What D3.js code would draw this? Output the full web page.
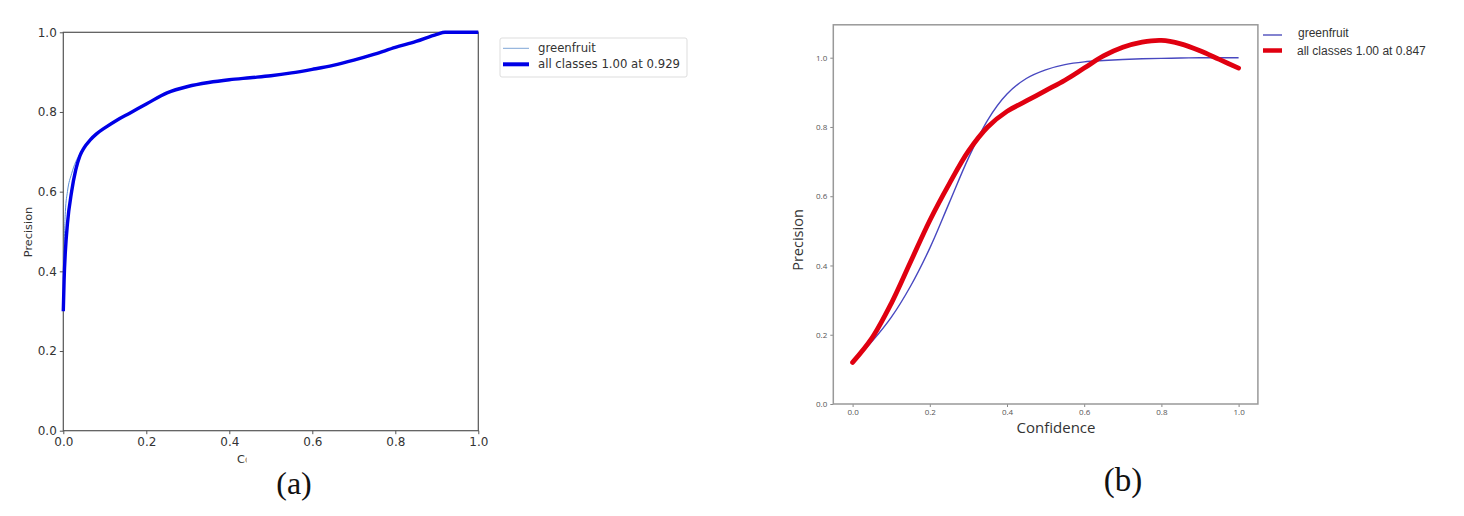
<!DOCTYPE html>
<html><head><meta charset="utf-8">
<script src="https://cdn.jsdelivr.net/npm/d3@7"></script>
<style>html,body{margin:0;padding:0;background:#fff;}svg{display:block;}</style>
</head><body>
<svg id="chart" width="1464" height="516"></svg>
<script>
// ---------- Data: panel (a) ----------
const aConfidence = [0, 0.002, 0.005, 0.01, 0.02, 0.03, 0.04, 0.05, 0.065, 0.08, 0.1, 0.13, 0.16, 0.2, 0.25, 0.3, 0.35, 0.4, 0.45, 0.5, 0.55, 0.6, 0.65, 0.7, 0.75, 0.8, 0.85, 0.9, 0.92, 0.95, 1.0];
const aAllClasses = [0.30, 0.38, 0.45, 0.52, 0.60, 0.655, 0.69, 0.71, 0.73, 0.745, 0.76, 0.78, 0.797, 0.82, 0.848, 0.864, 0.874, 0.881, 0.886, 0.891, 0.898, 0.907, 0.917, 0.93, 0.945, 0.962, 0.977, 0.995, 1.0, 1.0, 1.0];
const aGreenfruit = [0.30, 0.45, 0.55, 0.60, 0.645, 0.675, 0.695, 0.712, 0.73, 0.745, 0.76, 0.78, 0.797, 0.82, 0.848, 0.864, 0.874, 0.881, 0.886, 0.891, 0.898, 0.907, 0.917, 0.93, 0.945, 0.962, 0.977, 0.995, 1.0, 1.0, 1.0];
const aLegend = ["greenfruit", "all classes 1.00 at 0.929"];

// ---------- Data: panel (b) ----------
const bConfidence = [0, 0.05, 0.1, 0.15, 0.2, 0.25, 0.3, 0.35, 0.4, 0.45, 0.5, 0.55, 0.6, 0.65, 0.7, 0.75, 0.8, 0.85, 0.9, 0.95, 1.0];
const bAllClasses = [0.12, 0.19, 0.29, 0.41, 0.53, 0.635, 0.73, 0.80, 0.845, 0.875, 0.905, 0.935, 0.97, 1.005, 1.03, 1.045, 1.05, 1.04, 1.02, 0.995, 0.97];
const bGreenfruit = [0.12, 0.18, 0.25, 0.34, 0.45, 0.58, 0.71, 0.82, 0.895, 0.94, 0.965, 0.98, 0.988, 0.992, 0.995, 0.997, 0.998, 0.999, 1.0, 1.0, 1.0];
const bLegend = ["greenfruit", "all classes 1.00 at 0.847"];

const ticks = [0, 0.2, 0.4, 0.6, 0.8, 1.0];
const captions = ["(a)", "(b)"];

const svg = d3.select("#chart");

// ================= Panel (a) =================
(function(){
  const x = d3.scaleLinear().domain([0, 1]).range([63.3, 478.3]);
  const y = d3.scaleLinear().domain([0, 1]).range([430.7, 32.3]);
  const g = svg.append("g");
  const font = "DejaVu Sans";
  const col = "#555";

  const xa = g.append("g").attr("transform", `translate(0,${y(0)})`)
    .call(d3.axisBottom(x).tickValues(ticks).tickFormat(d3.format(".1f")).tickSizeOuter(0).tickSize(3.5).tickPadding(3));
  const ya = g.append("g").attr("transform", `translate(${x(0)},0)`)
    .call(d3.axisLeft(y).tickValues(ticks).tickFormat(d3.format(".1f")).tickSizeOuter(0).tickSize(3.5).tickPadding(3));
  [xa, ya].forEach(a => {
    a.select(".domain").remove();
    a.selectAll("line").attr("stroke", col);
    a.selectAll("text").attr("font-family", font).attr("font-size", 12).attr("fill", "#333");
  });
  g.append("rect").attr("x", x(0)).attr("y", y(1)).attr("width", x(1) - x(0)).attr("height", y(0) - y(1))
    .attr("fill", "none").attr("stroke", col).attr("stroke-width", 1.2);

  const line = d3.line().x(d => x(d[0])).y(d => y(d[1])).curve(d3.curveMonotoneX);
  g.append("path").datum(aConfidence.map((c, i) => [c, aGreenfruit[i]]))
    .attr("d", line).attr("fill", "none").attr("stroke", "#5b8fd6").attr("stroke-width", 1);
  g.append("path").datum(aConfidence.map((c, i) => [c, aAllClasses[i]]))
    .attr("d", line).attr("fill", "none").attr("stroke", "#0000e6").attr("stroke-width", 3.4)
    .attr("stroke-linejoin", "round");

  g.append("text").attr("transform", `translate(32,232) rotate(-90)`)
    .attr("text-anchor", "middle").attr("font-family", font).attr("font-size", 11.3).attr("fill", "#333")
    .text("Precision");
  // x label, mostly hidden behind the caption area
  const clip = svg.append("defs").append("clipPath").attr("id", "clipA");
  clip.append("rect").attr("x", 200).attr("y", 445).attr("width", 46.5).attr("height", 25);
  g.append("text").attr("x", 237).attr("y", 463)
    .attr("text-anchor", "start").attr("font-family", font).attr("font-size", 11.3).attr("fill", "#333")
    .attr("clip-path", "url(#clipA)").text("Confidence");

  const lg = g.append("g");
  lg.append("rect").attr("x", 500).attr("y", 38).attr("width", 187).attr("height", 39).attr("rx", 2)
    .attr("fill", "#fff").attr("stroke", "#ddd").attr("stroke-width", 1);
  const items = [{c: "#7fa6d6", w: 1, yy: 48.3}, {c: "#0000e6", w: 4, yy: 64.3}];
  items.forEach((it, i) => {
    lg.append("line").attr("x1", 503).attr("x2", 529).attr("y1", it.yy).attr("y2", it.yy)
      .attr("stroke", it.c).attr("stroke-width", it.w);
    lg.append("text").attr("x", 538).attr("y", it.yy).attr("dy", "0.35em")
      .attr("font-family", font).attr("font-size", 11.7).attr("fill", "#333").text(aLegend[i]);
  });
  svg.append("text").attr("x", 294).attr("y", 494).attr("text-anchor", "middle")
    .attr("font-family", "Liberation Serif").attr("font-size", 32).attr("fill", "#111").text(captions[0]);
})();

// ================= Panel (b) =================
(function(){
  const x = d3.scaleLinear().domain([-0.05, 1.05]).range([833.3, 1257.9]);
  const y = d3.scaleLinear().domain([0, 1.095]).range([404, 24.8]);
  const g = svg.append("g");
  const font = "Open Sans";
  const col = "#999";

  const xa = g.append("g").attr("transform", `translate(0,${y(0)})`)
    .call(d3.axisBottom(x).tickValues(ticks).tickFormat(d3.format(".1f")).tickSizeOuter(0).tickSize(3).tickPadding(2));
  const ya = g.append("g").attr("transform", `translate(${x(-0.05)},0)`)
    .call(d3.axisLeft(y).tickValues(ticks).tickFormat(d3.format(".1f")).tickSizeOuter(0).tickSize(3).tickPadding(3));
  [xa, ya].forEach(a => {
    a.select(".domain").remove();
    a.selectAll("line").attr("stroke", "#888");
    a.selectAll("text").attr("font-family", font).attr("font-size", 8).attr("fill", "#555");
  });
  g.append("rect").attr("x", x(-0.05)).attr("y", y(1.095)).attr("width", x(1.05) - x(-0.05)).attr("height", y(0) - y(1.095))
    .attr("fill", "none").attr("stroke", col).attr("stroke-width", 1.5);

  const line = d3.line().x(d => x(d[0])).y(d => y(d[1])).curve(d3.curveCatmullRom.alpha(0.5));
  g.append("path").datum(bConfidence.map((c, i) => [c, bGreenfruit[i]]))
    .attr("d", line).attr("fill", "none").attr("stroke", "#4848c0").attr("stroke-width", 1.4);
  g.append("path").datum(bConfidence.map((c, i) => [c, bAllClasses[i]]))
    .attr("d", line).attr("fill", "none").attr("stroke", "#e00010").attr("stroke-width", 4.8)
    .attr("stroke-linecap", "round");

  g.append("text").attr("transform", `translate(803,240) rotate(-90)`)
    .attr("text-anchor", "middle").attr("font-family", font).attr("font-size", 14.5).attr("fill", "#333")
    .text("Precision");
  g.append("text").attr("x", 1056).attr("y", 433)
    .attr("text-anchor", "middle").attr("font-family", font).attr("font-size", 15).attr("fill", "#333")
    .text("Confidence");

  const lg = g.append("g");
  const items = [{c: "#5a5ac0", w: 1.5, yy: 35}, {c: "#e00010", w: 4.5, yy: 50.5}];
  items.forEach((it, i) => {
    lg.append("line").attr("x1", 1263).attr("x2", 1282).attr("y1", it.yy).attr("y2", it.yy)
      .attr("stroke", it.c).attr("stroke-width", it.w);
    lg.append("text").attr("x", i === 0 ? 1298 : 1297).attr("y", it.yy - (i === 0 ? 2 : 0)).attr("dy", "0.35em")
      .attr("font-family", "Liberation Sans").attr("font-size", 12).attr("fill", "#333").text(bLegend[i]);
  });
  svg.append("text").attr("x", 1123).attr("y", 491).attr("text-anchor", "middle")
    .attr("font-family", "Liberation Serif").attr("font-size", 33).attr("fill", "#111").text(captions[1]);
})();
</script>
</body></html>
